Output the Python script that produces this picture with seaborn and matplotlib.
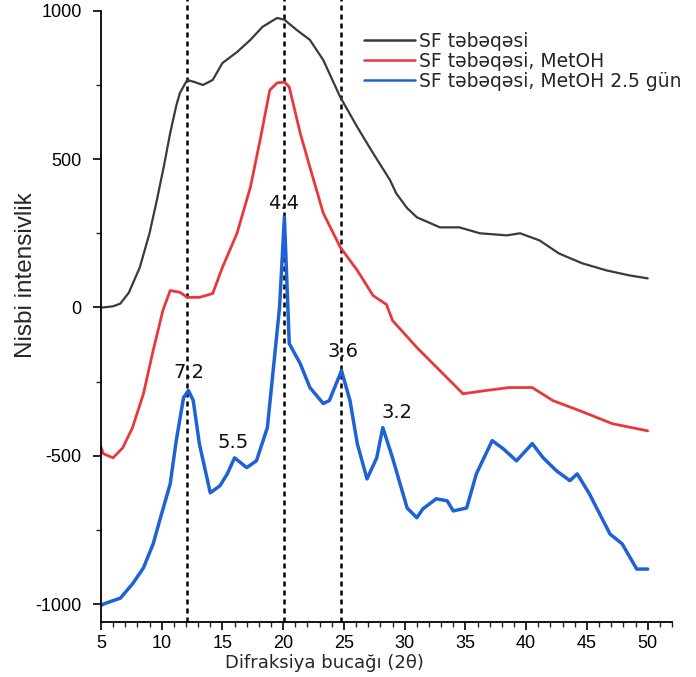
import matplotlib
matplotlib.use('Agg')
import matplotlib.pyplot as plt
from matplotlib.ticker import MultipleLocator
import seaborn as sns
import pandas as pd

# ---- data ----
x_sf = [5.0, 5.2, 6.0, 6.6, 7.3, 8.2, 9.0, 9.6, 10.2, 10.7, 11.2, 11.5, 12.1, 12.7, 13.4,
        14.2, 15.0, 16.2, 17.3, 18.3, 19.5, 20.1, 21.1, 22.2, 23.3, 24.7, 26.1, 27.4,
        28.8, 29.3, 30.2, 31.0, 32.9, 34.5, 36.2, 38.4, 39.5, 41.1, 42.7, 44.6, 46.6,
        48.5, 50.0]
y_sf = [0, 0, 4, 13, 50, 135, 250, 361, 480, 588, 680, 723, 767, 760, 750,
        767, 824, 861, 902, 946, 976, 970, 936, 902, 834, 709, 608, 520,
        429, 385, 335, 304, 270, 270, 250, 243, 250, 226, 182, 149, 125,
        108, 98]

x_meoh = [5.0, 5.2, 6.0, 6.8, 7.6, 8.5, 9.3, 10.1, 10.7, 11.5, 12.1, 13.1, 13.7, 14.2,
          15.0, 16.2, 17.3, 18.1, 18.9, 19.5, 20.1, 20.5, 21.4, 22.2, 23.3, 24.7,
          26.1, 27.4, 28.5, 29.0, 31.0, 32.9, 34.8, 36.7, 38.6, 40.5, 42.2, 44.4,
          47.1, 50.0]
y_meoh = [-470, -493, -507, -473, -405, -291, -145, -10, 57, 51, 34, 34, 41, 47,
          135, 250, 405, 564, 733, 757, 760, 743, 588, 473, 318, 203,
          125, 40, 10, -44, -135, -213, -291, -280, -270, -270, -314, -348,
          -392, -416]

x_meoh25 = [5.0, 5.2, 6.6, 7.6, 8.5, 9.3, 9.9, 10.7, 11.2, 11.8, 12.2, 12.6, 13.1, 14.0,
            14.8, 15.4, 16.0, 17.0, 17.8, 18.7, 19.2, 19.7, 20.1, 20.5, 21.4, 22.2,
            23.3, 23.8, 24.8, 25.5, 26.1, 26.9, 27.7, 28.2, 29.0, 30.2, 31.0, 31.5,
            32.6, 33.5, 34.0, 35.1, 35.9, 37.2, 38.1, 39.2, 40.5, 41.4, 42.5, 43.6,
            44.2, 45.2, 46.9, 47.9, 49.1, 50.0]
y_meoh25 = [-1005, -1000, -980, -932, -878, -797, -709, -595, -449, -304, -280, -314, -459, -625,
            -601, -561, -507, -540, -517, -405, -203, 0, 304, -122, -189, -270,
            -324, -314, -213, -314, -459, -578, -507, -405, -507, -676, -709, -679,
            -645, -652, -686, -676, -561, -449, -476, -517, -459, -507, -551, -584,
            -561, -628, -764, -797, -882, -882]

series_names = ['SF təbəqəsi', 'SF təbəqəsi, MetOH', 'SF təbəqəsi, MetOH 2.5 gün']
series_colors = ['#3a3a3a', '#e8383d', '#1f62d6']
series_widths = [1.6, 2.0, 2.5]

guide_positions = [12.1, 20.1, 24.8]
peak_labels = ['7.2', '5.5', '4.4', '3.6', '3.2']
label_x = [12.2, 15.9, 20.0, 24.9, 29.4]
label_y = [-220, -455, 350, -150, -355]

# ---- plot ----
sns.set_style('ticks')
plt.rcParams['font.family'] = ['Liberation Sans', 'DejaVu Sans']
plt.rcParams['axes.unicode_minus'] = False

fig = plt.figure(figsize=(6.96, 6.77), dpi=100)
ax = fig.add_axes([0.145, 0.081, 0.8205, 0.903])

frames = [
    pd.DataFrame({'x': x_sf, 'y': y_sf}),
    pd.DataFrame({'x': x_meoh, 'y': y_meoh}),
    pd.DataFrame({'x': x_meoh25, 'y': y_meoh25}),
]
for df, name, c, lw in zip(frames, series_names, series_colors, series_widths):
    sns.lineplot(data=df, x='x', y='y', ax=ax, color=c, linewidth=lw,
                 label=name, sort=False)

for gx in guide_positions:
    ax.axvline(gx, ymin=0, ymax=1.02, color='black', linewidth=1.8,
               linestyle=(0, (2, 1.6)), clip_on=False, zorder=1)

for lab, tx, ty in zip(peak_labels, label_x, label_y):
    ax.text(tx, ty, lab, ha='center', va='center', fontsize=14,
            color='#111111', family='DejaVu Sans')

ax.set_xlim(5, 52)
ax.set_ylim(-1061, 1000)
ax.xaxis.set_major_locator(MultipleLocator(5))
ax.xaxis.set_minor_locator(MultipleLocator(1))
ax.yaxis.set_major_locator(MultipleLocator(500))
ax.yaxis.set_minor_locator(MultipleLocator(250))
ax.tick_params(axis='both', which='major', length=5.8, width=1.2, labelsize=13,
               direction='out', colors='black')
ax.tick_params(axis='y', which='major', pad=8)
ax.tick_params(axis='both', which='minor', length=3.5, width=1.0, direction='out')
sns.despine(ax=ax)
for s in ('left', 'bottom'):
    ax.spines[s].set_linewidth(1.3)
    ax.spines[s].set_color('black')

ax.set_xlabel('Difraksiya bucağı (2θ)', fontsize=13, family='DejaVu Sans')
ax.xaxis.set_label_coords(0.392, -0.052)
ax.set_ylabel('Nisbi intensivlik', fontsize=17.5)
ax.yaxis.set_label_coords(-0.112, 0.568)

leg = ax.legend(loc='upper left', bbox_to_anchor=(0.448, 0.978), frameon=False,
                prop={'family': 'DejaVu Sans', 'size': 13.5}, handlelength=2.7,
                handletextpad=0.2, labelspacing=0.05, borderaxespad=0)
for line in leg.get_lines():
    line.set_linewidth(1.8)

fig.savefig('out.png', dpi=100)
